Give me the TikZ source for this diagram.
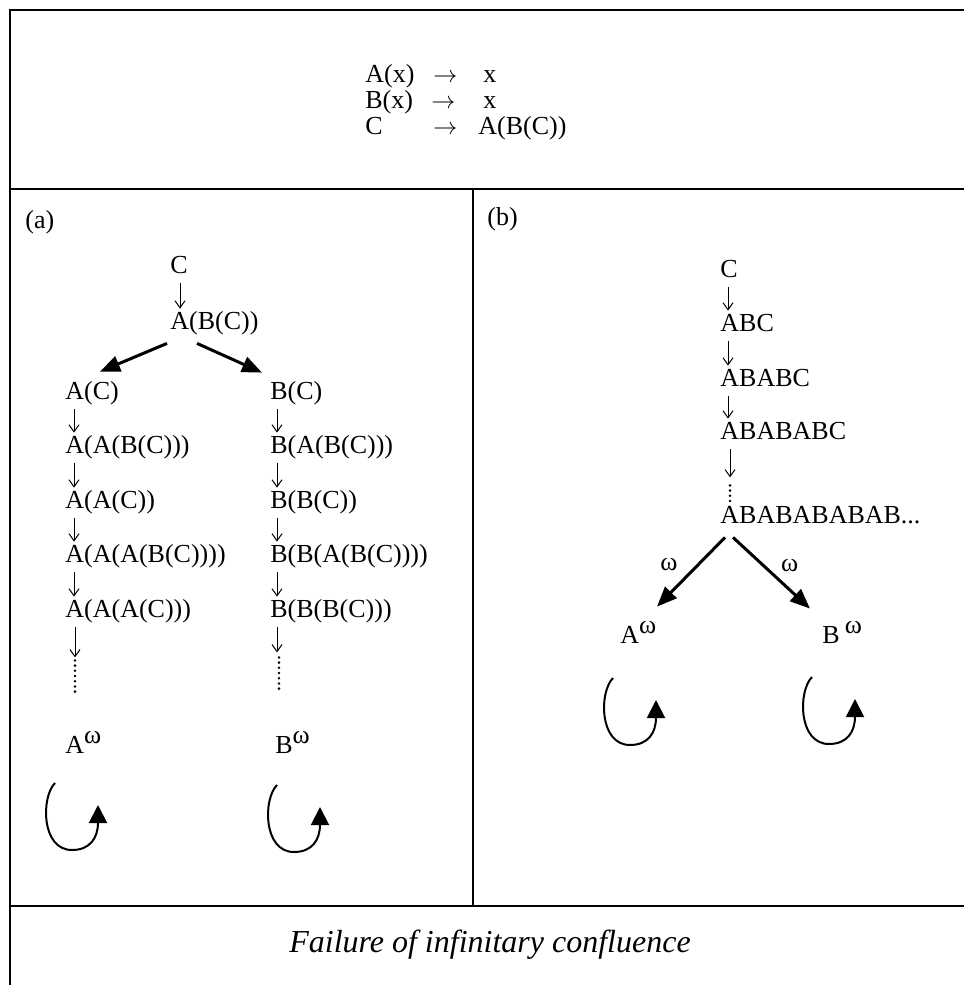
\documentclass[tikz,border=0pt]{standalone}
\usepackage{fontspec}
\setmainfont{Liberation Serif}
\usetikzlibrary{calc,arrows.meta}

\tikzset{
  term/.style={anchor=base west, inner sep=0pt, text height=10pt, text depth=3pt},
  rewrite/.style={-{Straight Barb[length=3.5pt,width=5pt]}, line width=0.5pt, shorten <=2pt},
  branch/.style={-{Triangle[length=10pt,width=8pt]}, line width=1.5pt},
  limit/.style={line width=1.4pt, dash pattern=on 0pt off 2.6pt, line cap=round},
  rule/.style={line width=1pt},
  selfloop/.pic={
    \draw[line width=1pt,-{Triangle[length=9pt,width=9pt]}]
      (0,0) .. controls (-14,14) and (-14,67) .. (17,67)
            .. controls (35,67) and (43,55) .. (43,22);
  }
}

\begin{document}
\begin{tikzpicture}[x=0.5pt,y=-0.5pt,font=\fontsize{13}{15}\selectfont]
  \useasboundingbox (0,0) rectangle (964,985);

  % frame
  \draw[rule] (964,10) -- (10,10) -- (10,985);
  \draw[rule] (10,189) -- (964,189);
  \draw[rule] (473,189) -- (473,906);
  \draw[rule] (10,906) -- (964,906);

  % rewrite rules
  \node[term] (r1l) at (365,82) {A(x)};
  \node[term] (r1a) at (433,82) {$\rightarrow$};
  \node[term] (r1r) at (483,82) {x};
  \node[term] (r2l) at (365,108) {B(x)};
  \node[term] (r2a) at (431,108) {$\rightarrow$};
  \node[term] (r2r) at (483,108) {x};
  \node[term] (r3l) at (365,134) {C};
  \node[term] (r3a) at (433,134) {$\rightarrow$};
  \node[term] (r3r) at (478,134) {A(B(C))};

  % (a)
  \node[term] (la) at (25,228) {(a)};
  \node[term] (c) at (170,273) {C};
  \node[term] (abc) at (170,329) {A(B(C))};
  \node[term] (a1) at (65,399) {A(C)};
  \node[term] (a2) at (65,453) {A(A(B(C)))};
  \node[term] (a3) at (65,508) {A(A(C))};
  \node[term] (a4) at (65,562) {A(A(A(B(C))))};
  \node[term] (a5) at (65,617) {A(A(A(C)))};
  \node[term] (aw) at (65,753) {A\raisebox{5pt}{ω}};
  \node[term] (b1) at (270,399) {B(C)};
  \node[term] (b2) at (270,453) {B(A(B(C)))};
  \node[term] (b3) at (270,508) {B(B(C))};
  \node[term] (b4) at (270,562) {B(B(A(B(C))))};
  \node[term] (b5) at (270,617) {B(B(B(C)))};
  \node[term] (bw) at (275,753) {B\raisebox{5pt}{ω}};

  \draw[rewrite] ($(c.south west)+(10,0)$) -- ($(abc.north west)+(10,0)$);
  \draw[branch] ($(abc.south west)+(-3,8)$) -- ($(a1.north west)+(35,-7)$);
  \draw[branch] ($(abc.south west)+(27,8)$) -- ($(b1.north west)+(-8,-6)$);
  \foreach \u/\v in {a1/a2,a2/a3,a3/a4,a4/a5}
    \draw[rewrite] ($(\u.south west)+(9,0)$) -- ($(\v.north west)+(9,0)$);
  \foreach \u/\v in {b1/b2,b2/b3,b3/b4,b4/b5}
    \draw[rewrite] ($(\u.south west)+(7,0)$) -- ($(\v.north west)+(7,0)$);

  \coordinate (adots) at ($(a5.south west)+(10,34)$);
  \coordinate (aend) at ($(a5.south west)+(10,72)$);
  \draw[rewrite] ($(a5.south west)+(10,0)$) -- (adots);
  \draw[limit] ($(adots)+(0,3)$) -- (aend);
  \coordinate (bdots) at ($(b5.south west)+(7,29)$);
  \coordinate (bend) at ($(b5.south west)+(9,67)$);
  \draw[rewrite] ($(b5.south west)+(7,0)$) -- (bdots);
  \draw[limit] ($(b5.south west)+(9,34)$) -- (bend);

  \pic at ($(aw.base west)+(-10,30)$) {selfloop};
  \pic at ($(bw.base west)+(2,32)$) {selfloop};

  % (b)
  \node[term] (lb) at (487,225) {(b)};
  \node[term] (s0) at (720,277) {C};
  \node[term] (s1) at (720,331) {ABC};
  \node[term] (s2) at (720,386) {ABABC};
  \node[term] (s3) at (720,439) {ABABABC};
  \node[term] (sw) at (720,523) {ABABABABAB...};
  \node[term] (lw) at (620,643) {A\raisebox{5pt}{ω}};
  \node[term] (rw) at (822,643) {B\hspace{2.5pt}\raisebox{5pt}{ω}};

  \foreach \u/\v in {s0/s1,s1/s2,s2/s3}
    \draw[rewrite] ($(\u.south west)+(8,0)$) -- ($(\v.north west)+(8,0)$);
  \coordinate (sdots) at ($(s3.south west)+(10,32)$);
  \draw[rewrite] ($(s3.south west)+(10,0)$) -- (sdots);
  \draw[limit] ($(s3.south west)+(10,40)$) -- ($(sw.north west)+(10,0)$);

  \draw[branch] ($(sw.south west)+(5,8)$) -- ($(lw.north west)+(37,-16)$)
    node[midway, anchor=south east, inner sep=0pt, xshift=-6pt] {ω};
  \draw[branch] ($(sw.south west)+(13,8)$) -- ($(rw.north west)+(-12,-14)$)
    node[midway, anchor=south west, inner sep=0pt, xshift=4pt] {ω};

  \pic at ($(lw.base west)+(-7,35)$) {selfloop};
  \pic at ($(rw.base west)+(-10,34)$) {selfloop};

  % caption
  \node (caption) at (490,945) {\fontsize{16}{18}\selectfont\itshape Failure of infinitary confluence};
\end{tikzpicture}
\end{document}
